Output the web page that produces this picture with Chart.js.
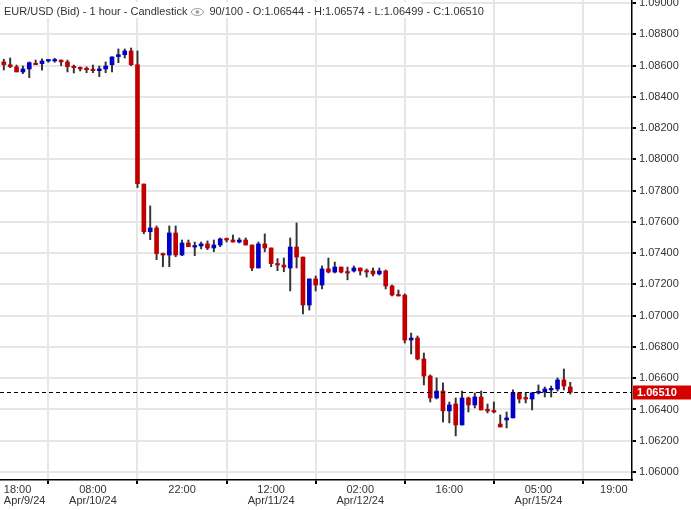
<!DOCTYPE html>
<html><head><meta charset="utf-8">
<script src="https://cdn.jsdelivr.net/npm/chart.js@4.4.1/dist/chart.umd.min.js"></script>
<style>html,body{margin:0;padding:0;background:#fff}#w{width:691px;height:510px}</style>
</head><body><div id="w"><canvas id="c"></canvas></div>
<script>
const opens=[1.08623,1.08605,1.08591,1.08559,1.08578,1.08612,1.08612,1.08629,1.08629,1.08635,1.08623,1.08591,1.08584,1.08580,1.08573,1.08567,1.08578,1.08605,1.08657,1.08669,1.08693,1.08605,1.07842,1.07537,1.07561,1.07397,1.07388,1.07529,1.07388,1.07465,1.07439,1.07446,1.07459,1.07433,1.07452,1.07491,1.07484,1.07471,1.07484,1.07452,1.07305,1.07459,1.07433,1.07333,1.07324,1.07305,1.07439,1.07375,1.07068,1.07235,1.07196,1.07299,1.07279,1.07311,1.07279,1.07286,1.07305,1.07286,1.07286,1.07267,1.07286,1.07190,1.07132,1.07132,1.06844,1.06857,1.06723,1.06614,1.06474,1.06518,1.06391,1.06435,1.06301,1.06474,1.06429,1.06480,1.06397,1.06391,1.06307,1.06333,1.06346,1.06506,1.06474,1.06467,1.06506,1.06512,1.06525,1.06531,1.06589,1.06544];
const closes=[1.08605,1.08593,1.08559,1.08578,1.08618,1.08605,1.08629,1.08635,1.08635,1.08623,1.08593,1.08586,1.08578,1.08573,1.08567,1.08578,1.08597,1.08655,1.08669,1.08693,1.08605,1.07844,1.07537,1.07561,1.07397,1.07388,1.07529,1.07388,1.07465,1.07441,1.07446,1.07459,1.07433,1.07452,1.07491,1.07484,1.07471,1.07484,1.07452,1.07305,1.07459,1.07433,1.07333,1.07324,1.07311,1.07439,1.07375,1.07068,1.07235,1.07196,1.07299,1.07279,1.07311,1.07279,1.07273,1.07305,1.07286,1.07279,1.07267,1.07286,1.07190,1.07132,1.07126,1.06844,1.06857,1.06723,1.06614,1.06474,1.06518,1.06391,1.06429,1.06301,1.06474,1.06429,1.06480,1.06397,1.06391,1.06384,1.06288,1.06346,1.06506,1.06467,1.06467,1.06506,1.06512,1.06531,1.06531,1.06589,1.06550,1.06510];
const highs=[1.08640,1.08648,1.08603,1.08597,1.08623,1.08635,1.08642,1.08635,1.08646,1.08635,1.08635,1.08603,1.08591,1.08591,1.08603,1.08597,1.08623,1.08655,1.08706,1.08706,1.08712,1.08693,1.07842,1.07702,1.07574,1.07400,1.07574,1.07574,1.07484,1.07484,1.07471,1.07471,1.07478,1.07484,1.07497,1.07497,1.07516,1.07497,1.07497,1.07452,1.07471,1.07523,1.07433,1.07365,1.07369,1.07497,1.07593,1.07375,1.07235,1.07254,1.07318,1.07369,1.07343,1.07311,1.07311,1.07318,1.07305,1.07299,1.07305,1.07305,1.07292,1.07196,1.07164,1.07139,1.06889,1.06870,1.06761,1.06621,1.06602,1.06570,1.06448,1.06474,1.06518,1.06480,1.06506,1.06518,1.06435,1.06448,1.06365,1.06384,1.06525,1.06506,1.06506,1.06506,1.06557,1.06544,1.06550,1.06602,1.06659,1.06574];
const lows=[1.08571,1.08586,1.08559,1.08548,1.08522,1.08605,1.08571,1.08621,1.08621,1.08599,1.08559,1.08552,1.08565,1.08554,1.08554,1.08529,1.08554,1.08559,1.08618,1.08648,1.08599,1.07819,1.07524,1.07486,1.07358,1.07313,1.07313,1.07377,1.07384,1.07441,1.07384,1.07427,1.07422,1.07409,1.07441,1.07471,1.07471,1.07465,1.07452,1.07288,1.07305,1.07409,1.07313,1.07288,1.07281,1.07158,1.07305,1.07011,1.07036,1.07158,1.07171,1.07273,1.07273,1.07273,1.07229,1.07279,1.07260,1.07247,1.07254,1.07260,1.07171,1.07126,1.07126,1.06825,1.06755,1.06717,1.06557,1.06448,1.06467,1.06320,1.06314,1.06231,1.06301,1.06384,1.06410,1.06397,1.06378,1.06378,1.06288,1.06282,1.06346,1.06442,1.06442,1.06397,1.06499,1.06480,1.06480,1.06518,1.06525,1.06499];
const tickPos=[0,14,28,42,56,70,84,98];
const tickLabels=[["18:00","Apr/9/24"],["08:00","Apr/10/24"],["22:00"],["12:00","Apr/11/24"],["02:00","Apr/12/24"],["16:00"],["05:00","Apr/15/24"],["19:00"]];
const yTicks=[1.06,1.062,1.064,1.066,1.068,1.07,1.072,1.074,1.076,1.078,1.08,1.082,1.084,1.086,1.088,1.09];
const header="EUR/USD (Bid) - 1 hour - Candlestick";
const header2="90/100 - O:1.06544 - H:1.06574 - L:1.06499 - C:1.06510";

const RED='#c00000',BLUE='#0000c8';
const bodyData=opens.map((o,i)=>({x:i,y:[Math.min(o,closes[i]),Math.max(o,closes[i])]}));
const wickData=highs.map((h,i)=>({x:i,y:[lows[i],h]}));
const cols=opens.map((o,i)=>closes[i]<o?RED:BLUE);
const last=closes[closes.length-1];

const overlay={id:'ov',afterDatasetsDraw(ch){
  const {ctx,chartArea:a,scales:{y}}=ch;
  const py=Math.round(y.getPixelForValue(last))+0.5;
  ctx.save();
  ctx.strokeStyle='#000';ctx.lineWidth=1.2;ctx.setLineDash([4,3]);
  ctx.beginPath();ctx.moveTo(a.left,py);ctx.lineTo(a.right,py);ctx.stroke();
  ctx.setLineDash([]);
  ctx.fillStyle='#d40000';ctx.fillRect(a.right+1,py-7,58,14);
  ctx.fillStyle='#fff';ctx.font='bold 11px "Liberation Sans"';ctx.textBaseline='middle';
  ctx.fillText(last.toFixed(5),a.right+5,py+0.5);
  ctx.fillStyle='#fff';ctx.fillRect(a.left+1,2,420,16);
  ctx.fillStyle='#333';ctx.font='11px "Liberation Sans"';ctx.textBaseline='middle';
  ctx.fillText(header,4,12);
  const w=ctx.measureText(header).width+4;
  const ex=w+10;
  ctx.strokeStyle='#999';ctx.lineWidth=1;
  ctx.beginPath();ctx.ellipse(ex,12,6,3.5,0,0,Math.PI*2);ctx.stroke();
  ctx.beginPath();ctx.arc(ex,12,1.8,0,Math.PI*2);ctx.fillStyle='#999';ctx.fill();
  ctx.fillStyle='#333';ctx.fillText(header2,ex+12,12);
  ctx.restore();
}};

new Chart(document.getElementById('c'),{
  type:'bar',
  data:{datasets:[
    {data:bodyData,backgroundColor:cols,barThickness:4,minBarLength:1.5,order:0,grouped:false},
    {data:wickData,backgroundColor:'#333',barThickness:1.3,order:1,grouped:false}
  ]},
  options:{
    responsive:true,maintainAspectRatio:false,animation:false,
    layout:{padding:{top:0,right:0,left:0,bottom:2}},
    plugins:{legend:{display:false},tooltip:{enabled:false}},
    scales:{
      x:{type:'linear',min:-0.6,max:98.7,offset:false,
        afterBuildTicks(s){s.ticks=tickPos.map(v=>({value:v}));},
        afterFit(s){s.height=28;s.paddingLeft=0;s.paddingRight=0;},
        grid:{color:'#e6e6e6',lineWidth:2,drawTicks:true,tickLength:4,tickColor:'#000'},
        border:{color:'#000',width:1.5},
        ticks:{maxRotation:0,autoSkip:false,align:'inner',padding:1,color:'#333',font:{family:'"Liberation Sans"',size:11,lineHeight:0.95},
          callback:(v)=>{const k=tickPos.indexOf(v);return k<0?'':tickLabels[k];}}
      },
      y:{position:'right',min:1.05949,max:1.09019,
        afterBuildTicks(s){s.ticks=yTicks.map(v=>({value:v}));},
        afterFit(s){s.width=59;s.paddingTop=0;s.paddingBottom=0;},
        grid:{color:'#e6e6e6',lineWidth:2,tickLength:4,tickColor:'#000'},
        border:{color:'#000',width:1.5},
        ticks:{padding:3,color:'#333',font:{family:'"Liberation Sans"',size:11},callback:v=>v.toFixed(5)}
      }
    }
  },
  plugins:[overlay]
});
</script></body></html>
